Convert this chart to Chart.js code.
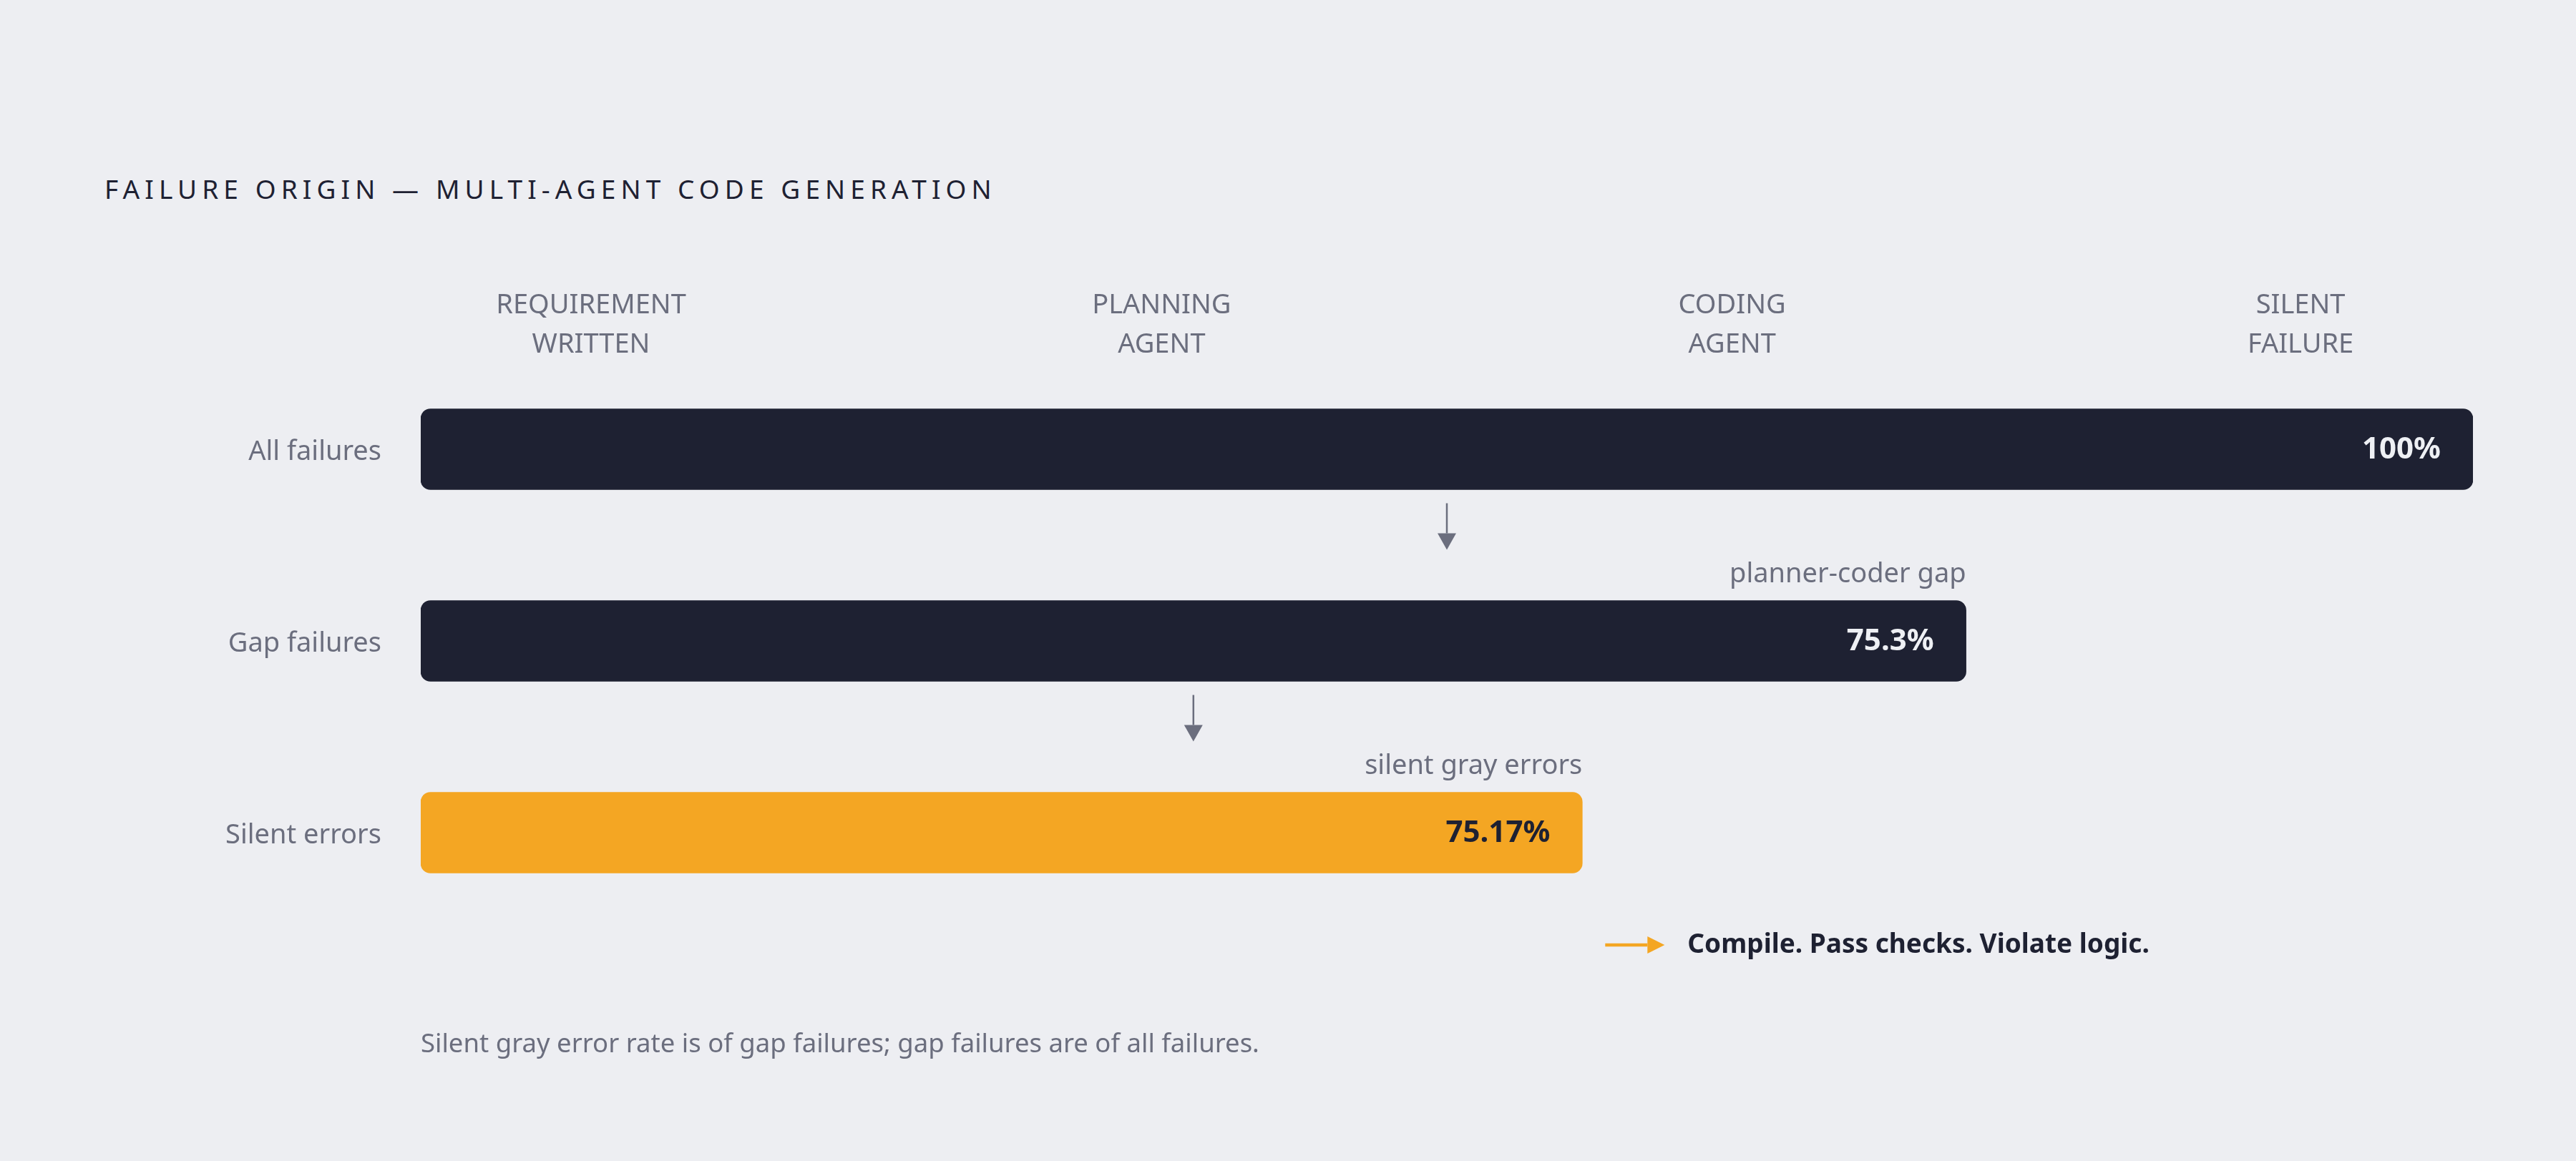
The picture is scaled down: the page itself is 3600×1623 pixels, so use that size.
<!DOCTYPE html>
<html>
<head>
<meta charset="utf-8">
<script src="https://cdn.jsdelivr.net/npm/chart.js@4/dist/chart.umd.min.js"></script>
<style>
  html, body { margin: 0; padding: 0; background: #edeef2; }
  #wrap { position: relative; width: 3600px; height: 1623px; overflow: hidden; }
  #chart-box { position: absolute; left: 0; top: 0; width: 3600px; height: 1623px; }
  .title {
    position: absolute; left: 146px; top: 241px;
    font: 400 37px "Noto Sans", sans-serif; letter-spacing: 7.1px;
    color: #1e2132; line-height: 46px; white-space: nowrap;
  }
  .footnote {
    position: absolute; left: 588px; top: 1434px;
    font: 400 36.5px "Noto Sans", sans-serif; color: #6b6e7e;
    line-height: 46px; white-space: nowrap;
  }
</style>
</head>
<body>
<div id="wrap">
  <div class="title">FAILURE ORIGIN — MULTI-AGENT CODE GENERATION</div>
  <div id="chart-box"><canvas id="flow-chart"></canvas></div>
  <div class="footnote">Silent gray error rate is of gap failures; gap failures are of all failures.</div>
</div>

<script>
// ─────────────────────────────────────────────
//  DATA
// ─────────────────────────────────────────────

const rowLabels   = ['All failures', 'Gap failures', 'Silent errors'];
const barValues   = [100, 75.3, 56.6];          // bar length, % of all failures
const valueLabels = ['100%', '75.3%', '75.17%'];
const barNotes    = ['', 'planner-coder gap', 'silent gray errors'];
const stageLabels = [['REQUIREMENT', 'WRITTEN'], ['PLANNING', 'AGENT'], ['CODING', 'AGENT'], ['SILENT', 'FAILURE']];
const stageTicks  = [8.3, 36.1, 63.9, 91.6];
const calloutText = 'Compile. Pass checks. Violate logic.';

const DARK = '#1e2132';
const AMBER = '#f4a623';
const MUTED = '#6b6e7e';
const FONT = '"Noto Sans", sans-serif';

const barColors   = [DARK, DARK, AMBER];
const labelColors = ['#eef0f4', '#eef0f4', DARK];

// ─────────────────────────────────────────────
//  OVERLAY: value labels, notes, arrows, callout
// ─────────────────────────────────────────────

function drawArrowDown(ctx, x, y0, y1, color) {
  const headLen = 23, headHalf = 13;
  ctx.save();
  ctx.strokeStyle = color;
  ctx.fillStyle = color;
  ctx.lineWidth = 2.5;
  ctx.beginPath();
  ctx.moveTo(x, y0);
  ctx.lineTo(x, y1 - headLen);
  ctx.stroke();
  ctx.beginPath();
  ctx.moveTo(x - headHalf, y1 - headLen);
  ctx.lineTo(x + headHalf, y1 - headLen);
  ctx.lineTo(x, y1);
  ctx.closePath();
  ctx.fill();
  ctx.restore();
}

function drawArrowRight(ctx, x0, x1, y, color) {
  const headLen = 24, headHalf = 12;
  ctx.save();
  ctx.strokeStyle = color;
  ctx.fillStyle = color;
  ctx.lineWidth = 4.5;
  ctx.beginPath();
  ctx.moveTo(x0, y);
  ctx.lineTo(x1 - headLen, y);
  ctx.stroke();
  ctx.beginPath();
  ctx.moveTo(x1 - headLen, y - headHalf);
  ctx.lineTo(x1 - headLen, y + headHalf);
  ctx.lineTo(x1, y);
  ctx.closePath();
  ctx.fill();
  ctx.restore();
}

const flowOverlay = {
  id: 'flowOverlay',
  afterDatasetsDraw(chart) {
    const ctx = chart.ctx;
    const bars = chart.getDatasetMeta(0).data;
    const xs = chart.scales.x;

    ctx.save();
    ctx.textBaseline = 'middle';

    bars.forEach((bar, i) => {
      const half = bar.height / 2;

      // value inside bar end
      ctx.font = `700 42px ${FONT}`;
      ctx.textAlign = 'right';
      ctx.fillStyle = labelColors[i];
      ctx.fillText(valueLabels[i], bar.x - 45, bar.y + 1);

      // note above bar end
      if (barNotes[i]) {
        ctx.font = `400 38px ${FONT}`;
        ctx.fillStyle = MUTED;
        ctx.fillText(barNotes[i], bar.x, bar.y - half - 36);
      }

      // down arrow from middle of this bar to the next row
      const next = bars[i + 1];
      if (next) {
        const ax = xs.getPixelForValue(barValues[i] / 2);
        drawArrowDown(ctx, ax, bar.y + half + 19, next.y - next.height / 2 - 71, MUTED);
      }
    });

    // callout after the last bar
    const last = bars[bars.length - 1];
    const cy = last.y + 157;
    drawArrowRight(ctx, last.x + 32, last.x + 115, cy, AMBER);
    ctx.font = `700 37px ${FONT}`;
    ctx.textAlign = 'left';
    ctx.fillStyle = DARK;
    ctx.fillText(calloutText, last.x + 147, cy);

    ctx.restore();
  }
};

// ─────────────────────────────────────────────
//  CHART
// ─────────────────────────────────────────────

new Chart(document.getElementById('flow-chart').getContext('2d'), {
  type: 'bar',
  data: {
    labels: rowLabels,
    datasets: [{
      data: barValues,
      backgroundColor: barColors,
      borderWidth: 0,
      borderRadius: 14,
      borderSkipped: false,
      barThickness: 113
    }]
  },
  options: {
    indexAxis: 'y',
    responsive: true,
    maintainAspectRatio: false,
    devicePixelRatio: 1,
    animation: false,
    layout: { padding: { top: 300, right: 144, bottom: 325, left: 0 } },
    plugins: {
      legend: { display: false },
      title: { display: false },
      tooltip: { enabled: false }
    },
    scales: {
      x: {
        type: 'linear',
        position: 'top',
        min: 0,
        max: 100,
        grid: { display: false, drawTicks: false },
        border: { display: false },
        afterBuildTicks: scale => { scale.ticks = stageTicks.map(v => ({ value: v })); },
        afterFit: scale => { scale.height = 194; },
        ticks: {
          autoSkip: false,
          maxRotation: 0,
          padding: -16,
          color: MUTED,
          font: { family: FONT, size: 38, lineHeight: 1.45 },
          callback: (v, i) => stageLabels[i]
        }
      },
      y: {
        type: 'category',
        grid: { display: false, drawTicks: false },
        border: { display: false },
        afterFit: scale => { scale.width = 588; },
        ticks: {
          padding: 55,
          labelOffset: 4,
          color: MUTED,
          font: { family: FONT, size: 38 }
        }
      }
    }
  },
  plugins: [flowOverlay]
});
</script>
</body>
</html>
